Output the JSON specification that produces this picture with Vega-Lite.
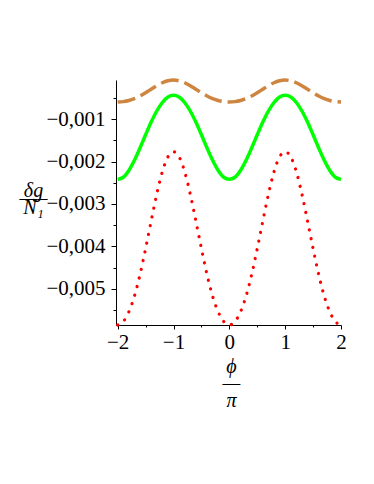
{
  "$schema": "https://vega.github.io/schema/vega-lite/v6.json",
  "width": 225,
  "height": 245,
  "autosize": {"type": "none"},
  "padding": {"left": 116, "top": 80, "right": 33, "bottom": 159},
  "background": "white",
  "view": {"stroke": null},
  "data": {"values": [
    {"x": -2.0, "brown": -0.000598, "green": -0.00242, "red": -0.00585},
    {"x": -1.9, "brown": -0.000589, "green": -0.00237, "red": -0.00577},
    {"x": -1.8, "brown": -0.000563, "green": -0.00221, "red": -0.00554},
    {"x": -1.7, "brown": -0.000518, "green": -0.00197, "red": -0.00517},
    {"x": -1.6, "brown": -0.000456, "green": -0.00168, "red": -0.00466},
    {"x": -1.5, "brown": -0.00038, "green": -0.00137, "red": -0.00405},
    {"x": -1.4, "brown": -0.000297, "green": -0.00107, "red": -0.0034},
    {"x": -1.3, "brown": -0.000214, "green": -0.00081, "red": -0.00277},
    {"x": -1.2, "brown": -0.000145, "green": -0.00061, "red": -0.00224},
    {"x": -1.1, "brown": -0.000099, "green": -0.00048, "red": -0.00189},
    {"x": -1.0, "brown": -0.000082, "green": -0.00044, "red": -0.00177},
    {"x": -0.9, "brown": -0.000099, "green": -0.00048, "red": -0.00189},
    {"x": -0.8, "brown": -0.000145, "green": -0.00061, "red": -0.00224},
    {"x": -0.7, "brown": -0.000214, "green": -0.00081, "red": -0.00277},
    {"x": -0.6, "brown": -0.000297, "green": -0.00107, "red": -0.0034},
    {"x": -0.5, "brown": -0.00038, "green": -0.00137, "red": -0.00405},
    {"x": -0.4, "brown": -0.000456, "green": -0.00168, "red": -0.00466},
    {"x": -0.3, "brown": -0.000518, "green": -0.00197, "red": -0.00517},
    {"x": -0.2, "brown": -0.000563, "green": -0.00221, "red": -0.00554},
    {"x": -0.1, "brown": -0.000589, "green": -0.00237, "red": -0.00577},
    {"x": 0.0, "brown": -0.000598, "green": -0.00242, "red": -0.00585},
    {"x": 0.1, "brown": -0.000589, "green": -0.00237, "red": -0.00577},
    {"x": 0.2, "brown": -0.000563, "green": -0.00221, "red": -0.00554},
    {"x": 0.3, "brown": -0.000518, "green": -0.00197, "red": -0.00517},
    {"x": 0.4, "brown": -0.000456, "green": -0.00168, "red": -0.00466},
    {"x": 0.5, "brown": -0.00038, "green": -0.00137, "red": -0.00405},
    {"x": 0.6, "brown": -0.000297, "green": -0.00107, "red": -0.0034},
    {"x": 0.7, "brown": -0.000214, "green": -0.00081, "red": -0.00277},
    {"x": 0.8, "brown": -0.000145, "green": -0.00061, "red": -0.00224},
    {"x": 0.9, "brown": -0.000099, "green": -0.00048, "red": -0.00189},
    {"x": 1.0, "brown": -0.000082, "green": -0.00044, "red": -0.00177},
    {"x": 1.1, "brown": -0.000099, "green": -0.00048, "red": -0.00189},
    {"x": 1.2, "brown": -0.000145, "green": -0.00061, "red": -0.00224},
    {"x": 1.3, "brown": -0.000214, "green": -0.00081, "red": -0.00277},
    {"x": 1.4, "brown": -0.000297, "green": -0.00107, "red": -0.0034},
    {"x": 1.5, "brown": -0.00038, "green": -0.00137, "red": -0.00405},
    {"x": 1.6, "brown": -0.000456, "green": -0.00168, "red": -0.00466},
    {"x": 1.7, "brown": -0.000518, "green": -0.00197, "red": -0.00517},
    {"x": 1.8, "brown": -0.000563, "green": -0.00221, "red": -0.00554},
    {"x": 1.9, "brown": -0.000589, "green": -0.00237, "red": -0.00577},
    {"x": 2.0, "brown": -0.000598, "green": -0.00242, "red": -0.00585}
  ]},
  "encoding": {
    "x": {
      "field": "x", "type": "quantitative",
      "scale": {"domain": [-2.03, 2], "nice": false, "zero": false},
      "axis": {
        "values": [-2, -1.5, -1, -0.5, 0, 0.5, 1, 1.5, 2],
        "labelExpr": "datum.value % 1 == 0 ? format(datum.value, 'd') : ''",
        "tickSize": {"condition": {"test": "datum.value % 1 == 0", "value": 4}, "value": 2},
        "labelPadding": 2,
        "labelFont": "Liberation Serif", "labelFontSize": 21, "labelColor": "black",
        "labelFlush": false, "labelOverlap": false,
        "domainColor": "black", "tickColor": "black", "grid": false,
        "title": ["ϕ", "—", "π"],
        "titleFont": "Liberation Serif", "titleFontSize": 20, "titleFontStyle": "italic",
        "titleFontWeight": "normal", "titleColor": "black",
        "titleLineHeight": 17,
        "titleAngle": 0, "titleAlign": "center", "titleBaseline": "alphabetic",
        "titleX": 115, "titleY": 47
      }
    },
    "y": {
      "type": "quantitative",
      "scale": {"domain": [-0.00585, -0.00008], "nice": false, "zero": false},
      "axis": {
        "values": [-0.0055, -0.005, -0.0045, -0.004, -0.0035, -0.003, -0.0025, -0.002, -0.0015, -0.001, -0.0005],
        "labelExpr": "abs(round(datum.value * 10000)) % 10 == 0 ? replace(format(datum.value, '.3f'), '.', ',') : ''",
        "tickSize": {"condition": {"test": "abs(round(datum.value * 10000)) % 10 == 0", "value": 5}, "value": 3},
        "labelPadding": 6,
        "labelFont": "Liberation Serif", "labelFontSize": 21, "labelColor": "black",
        "labelFlush": false, "labelOverlap": false,
        "domainColor": "black", "tickColor": "black", "grid": false,
        "title": ["δg", "—–", "N₁"],
        "titleFont": "Liberation Serif", "titleFontSize": 20, "titleFontStyle": "italic",
        "titleFontWeight": "normal", "titleColor": "black",
        "titleLineHeight": 8.5,
        "titleAngle": 0, "titleAlign": "center", "titleBaseline": "alphabetic",
        "titleX": -83, "titleY": 116
      }
    }
  },
  "layer": [
    {
      "mark": {"type": "line", "color": "#CD853F", "strokeWidth": 3.5, "strokeDash": [18, 6], "interpolate": "monotone"},
      "encoding": {"y": {"field": "brown", "type": "quantitative"}}
    },
    {
      "mark": {"type": "line", "color": "#00FF00", "strokeWidth": 3.5, "interpolate": "monotone"},
      "encoding": {"y": {"field": "green", "type": "quantitative"}}
    },
    {
      "mark": {"type": "line", "color": "#FF0000", "strokeWidth": 3.2, "strokeDash": [0.1, 8.8], "strokeCap": "round", "interpolate": "monotone"},
      "encoding": {"y": {"field": "red", "type": "quantitative"}}
    }
  ]
}
